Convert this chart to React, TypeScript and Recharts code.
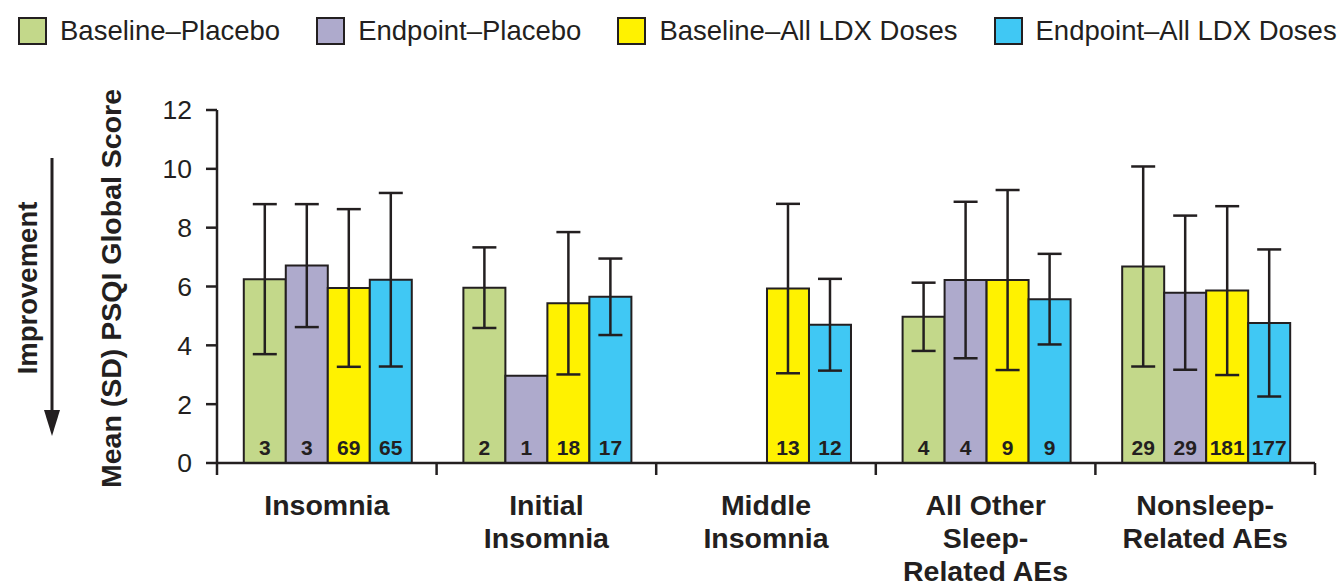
import { BarChart, Bar, XAxis, YAxis, ErrorBar, LabelList } from 'recharts'

const categories = ['Insomnia', 'Initial Insomnia', 'Middle Insomnia', 'All Other Sleep-Related AEs', 'Nonsleep-Related AEs']
const categoryLines = [['Insomnia'], ['Initial', 'Insomnia'], ['Middle', 'Insomnia'], ['All Other', 'Sleep-', 'Related AEs'], ['Nonsleep-', 'Related AEs']]

const baselinePlacebo = [6.25, 5.96, null, 4.97, 6.68]
const baselinePlaceboSD = [2.55, 1.37, null, 1.16, 3.4]
const endpointPlacebo = [6.71, 2.97, null, 6.22, 5.79]
const endpointPlaceboSD = [2.09, null, null, 2.66, 2.62]
const baselineLdx = [5.95, 5.43, 5.93, 6.22, 5.86]
const baselineLdxSD = [2.68, 2.42, 2.88, 3.06, 2.87]
const endpointLdx = [6.23, 5.65, 4.7, 5.57, 4.76]
const endpointLdxSD = [2.95, 1.3, 1.56, 1.54, 2.5]

const nBaselinePlacebo = [3, 2, null, 4, 29]
const nEndpointPlacebo = [3, 1, null, 4, 29]
const nBaselineLdx = [69, 18, 13, 9, 181]
const nEndpointLdx = [65, 17, 12, 9, 177]

const yTicks = [0, 2, 4, 6, 8, 10, 12]

const seriesNames = ['Baseline–Placebo', 'Endpoint–Placebo', 'Baseline–All LDX Doses', 'Endpoint–All LDX Doses']
const colors = ['#c3d88a', '#aeaacc', '#fff200', '#40c8f4']

const data = categories.map((c, i) => ({
  category: c,
  bp: baselinePlacebo[i],
  bpSD: baselinePlaceboSD[i],
  bpN: nBaselinePlacebo[i],
  ep: endpointPlacebo[i],
  epSD: endpointPlaceboSD[i],
  epN: nEndpointPlacebo[i],
  bl: baselineLdx[i],
  blSD: baselineLdxSD[i],
  blN: nBaselineLdx[i],
  el: endpointLdx[i],
  elSD: endpointLdxSD[i],
  elN: nEndpointLdx[i],
}))

const INK = '#231f20'
const FONT = '"Liberation Sans", Arial, Helvetica, sans-serif'
const BAND = (1315 - 217) / 5

const NLabel = (props: any) => {
  const { x, y, width, height, value } = props
  if (value == null) return null
  return (
    <text x={x + width / 2} y={y + height - 8} textAnchor="middle" fontSize={21} fontWeight="bold" fill={INK} fontFamily={FONT}>
      {value}
    </text>
  )
}

const CategoryTick = (props: any) => {
  const { x, y, index } = props
  const lines = categoryLines[index] || []
  return (
    <g>
      <line x1={x - BAND / 2} x2={x - BAND / 2} y1={y - 8} y2={y + 4} stroke={INK} strokeWidth={2.5} />
      {index === categories.length - 1 && (
        <line x1={x + BAND / 2} x2={x + BAND / 2} y1={y - 8} y2={y + 4} stroke={INK} strokeWidth={2.5} />
      )}
      {lines.map((l: string, i: number) => (
        <text key={i} x={x} y={y + 44 + i * 33} textAnchor="middle" fontSize={28.5} fontWeight="bold" fill={INK} fontFamily={FONT}>
          {l}
        </text>
      ))}
    </g>
  )
}

const series = [
  { key: 'bp', sd: 'bpSD', n: 'bpN' },
  { key: 'ep', sd: 'epSD', n: 'epN' },
  { key: 'bl', sd: 'blSD', n: 'blN' },
  { key: 'el', sd: 'elSD', n: 'elN' },
]

export default function App() {
  return (
    <div style={{ position: 'absolute', left: 0, top: 0, width: 1339, height: 588, fontFamily: FONT, color: INK }}>
      {/* legend */}
      <div style={{ position: 'absolute', left: 18, top: 15, display: 'flex', alignItems: 'center', gap: 36 }}>
        {seriesNames.map((s, i) => (
          <div key={s} style={{ display: 'flex', alignItems: 'center' }}>
            <div style={{ width: 25, height: 24, background: colors[i], border: `2px solid ${INK}`, marginRight: 13 }} />
            <span style={{ fontSize: 27.5, lineHeight: '32px' }}>{s}</span>
          </div>
        ))}
      </div>

      {/* improvement arrow */}
      <svg width={90} height={588} style={{ position: 'absolute', left: 0, top: 0 }}>
        <line x1={52} x2={52} y1={158} y2={415} stroke={INK} strokeWidth={3} />
        <polygon points="44,410 60,410 52,436" fill={INK} />
        <text x={0} y={0} transform="translate(37,288) rotate(-90)" textAnchor="middle" fontSize={27.5} fontWeight="bold" fill={INK} fontFamily={FONT}>
          Improvement
        </text>
      </svg>

      <BarChart
        width={1339}
        height={588}
        data={data}
        margin={{ top: 110, right: 24, bottom: 0, left: 100 }}
        barCategoryGap="12.2%"
        barGap={0}
        style={{ position: 'absolute', left: 0, top: 0 }}
      >
        <XAxis
          dataKey="category"
          height={125}
          tickLine={false}
          axisLine={{ stroke: INK, strokeWidth: 2.5 }}
          tick={<CategoryTick />}
          interval={0}
        />
        <YAxis
          width={117}
          domain={[0, 12]}
          ticks={yTicks}
          tickSize={11}
          tickMargin={14}
          axisLine={{ stroke: INK, strokeWidth: 2.5 }}
          tickLine={{ stroke: INK, strokeWidth: 2.5 }}
          tick={{ fill: INK, fontSize: 26.5, fontFamily: FONT }}
          label={{
            content: (p: any) => {
              const vb = p.viewBox
              return (
                <text
                  transform={`translate(${vb.x + 21},${vb.y + vb.height / 2 + 2}) rotate(-90)`}
                  textAnchor="middle"
                  fontSize={28.5}
                  fontWeight="bold"
                  fill={INK}
                  fontFamily={FONT}
                >
                  Mean (SD) PSQI Global Score
                </text>
              )
            },
          }}
        />
        {series.map((s, i) => (
          <Bar key={s.key} dataKey={s.key} name={seriesNames[i]} fill={colors[i]} stroke={INK} strokeWidth={2} isAnimationActive={false}>
            <ErrorBar dataKey={s.sd} width={12} stroke={INK} strokeWidth={2.5} direction="y" />
            <LabelList dataKey={s.n} content={<NLabel />} />
          </Bar>
        ))}
      </BarChart>
    </div>
  )
}
